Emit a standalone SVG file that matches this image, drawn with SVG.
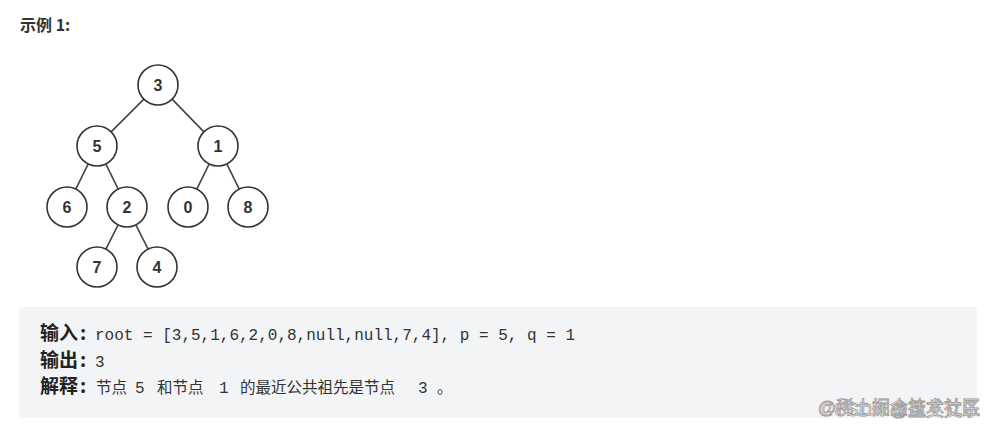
<svg xmlns="http://www.w3.org/2000/svg" width="995" height="430" viewBox="0 0 995 430">
<style>
.node circle{fill:#fff;stroke:#333;stroke-width:1.6}
.node text{font-family:"Liberation Sans",Arial,sans-serif;font-size:16px;font-weight:bold;fill:#333;text-anchor:middle;dominant-baseline:central}
.edges line{stroke:#444;stroke-width:1.6}
.lbl{font-family:"Noto Sans CJK SC",sans-serif;font-weight:bold;font-size:19px;fill:#222}
.cjk{font-family:"Noto Sans CJK SC",sans-serif;font-size:15.5px;fill:#333}
.mono{font-family:"Liberation Mono","DejaVu Sans Mono",monospace;font-size:16px;fill:#333}
.wm{font-family:"Liberation Sans","Noto Sans CJK SC",sans-serif;font-size:18px;fill:#fff;stroke:#999;stroke-width:0.8}
</style>
<rect width="995" height="430" fill="#fff"/>
<text x="20" y="31" style="font-family:'Noto Sans CJK SC',sans-serif;font-weight:bold;font-size:16px;fill:#333">示例 1:</text>
<g class="edges">
<line x1="143.9" y1="99.1" x2="111.1" y2="131.9"/>
<line x1="172.1" y1="99.1" x2="203.9" y2="131.9"/>
<line x1="88.2" y1="163.9" x2="75.8" y2="189.1"/>
<line x1="105.8" y1="163.9" x2="118.2" y2="189.1"/>
<line x1="209.2" y1="163.9" x2="196.8" y2="189.1"/>
<line x1="226.8" y1="163.9" x2="239.2" y2="189.1"/>
<line x1="118.1" y1="224.9" x2="105.9" y2="249.1"/>
<line x1="135.9" y1="224.9" x2="148.1" y2="249.1"/>
</g>
<g id="n3" class="node"><circle cx="158" cy="85" r="20"/><text x="158" y="85">3</text></g>
<g id="n5" class="node"><circle cx="97" cy="146" r="20"/><text x="97" y="146">5</text></g>
<g id="n1" class="node"><circle cx="218" cy="146" r="20"/><text x="218" y="146">1</text></g>
<g id="n6" class="node"><circle cx="67" cy="207" r="20"/><text x="67" y="207">6</text></g>
<g id="n2" class="node"><circle cx="127" cy="207" r="20"/><text x="127" y="207">2</text></g>
<g id="n0" class="node"><circle cx="188" cy="207" r="20"/><text x="188" y="207">0</text></g>
<g id="n8" class="node"><circle cx="248" cy="207" r="20"/><text x="248" y="207">8</text></g>
<g id="n7" class="node"><circle cx="97" cy="267" r="20"/><text x="97" y="267">7</text></g>
<g id="n4" class="node"><circle cx="157" cy="267" r="20"/><text x="157" y="267">4</text></g>
<rect x="19" y="307" width="958" height="111" rx="3" fill="#f3f4f6"/>
<text class="lbl" x="40" y="340">输入</text>
<text class="lbl" x="80" y="340">:</text>
<text class="mono" x="95" y="340" textLength="480" lengthAdjust="spacing">root = [3,5,1,6,2,0,8,null,null,7,4], p = 5, q = 1</text>
<text class="lbl" x="40" y="367">输出</text>
<text class="lbl" x="80" y="367">:</text>
<text class="mono" x="95" y="367">3</text>
<text class="lbl" x="40" y="393">解释</text>
<text class="lbl" x="80" y="393">:</text>
<text class="cjk" x="96" y="393">节点</text>
<text class="mono" x="135" y="393">5</text>
<text class="cjk" x="157" y="393">和节点</text>
<text class="mono" x="219" y="393">1</text>
<text class="cjk" x="240" y="393">的最近公共祖先是节点</text>
<text class="mono" x="418" y="393">3</text>
<text class="cjk" x="437" y="393">。</text>
<text class="wm" x="980" y="414" text-anchor="end">@稀土掘金技术社区</text>
<text class="wm" x="980" y="416" text-anchor="end">CSDN @盐艾艾乐</text>
</svg>
